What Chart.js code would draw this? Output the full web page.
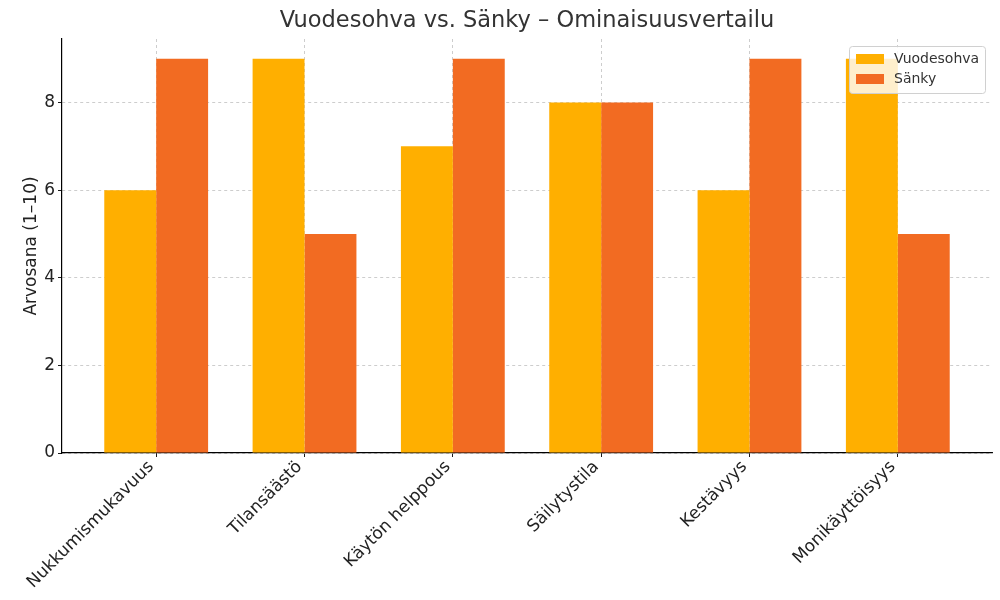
<!DOCTYPE html>
<html>
<head>
<meta charset="utf-8">
<script src="https://cdn.jsdelivr.net/npm/chart.js@4.4.1/dist/chart.umd.min.js"></script>
<style>
  html, body { margin: 0; padding: 0; background: #fff; }
  #wrap { width: 1000px; height: 600px; }
</style>
</head>
<body>
<div id="wrap"><canvas id="chart" width="1000" height="600"></canvas></div>
<script>
const categories = ["Nukkumismukavuus", "Tilansäästö", "Käytön helppous", "Säilytystila", "Kestävyys", "Monikäyttöisyys"];
const sohva = [6, 9, 7, 8, 6, 9];
const sanky = [9, 5, 9, 8, 9, 5];
const yTicks = [0, 2, 4, 6, 8];

const FONT = "'DejaVu Sans', sans-serif";

// legend box drawn inside plot, top right (like matplotlib)
const innerLegend = {
  id: "innerLegend",
  afterDraw(chart) {
    const ctx = chart.ctx;
    const area = chart.chartArea;
    const sets = chart.data.datasets;
    const w = 136, h = 47;
    const x = area.right - 7 - w, y = area.top + 7;
    ctx.save();
    ctx.fillStyle = "rgba(255,255,255,0.8)";
    ctx.strokeStyle = "#d0d0d0";
    ctx.lineWidth = 1;
    ctx.beginPath();
    ctx.roundRect(x + 0.5, y + 0.5, w, h, 3);
    ctx.fill();
    ctx.stroke();
    ctx.font = "14px " + FONT;
    ctx.textBaseline = "middle";
    sets.forEach((ds, i) => {
      const cy = y + 13 + i * 20;
      ctx.fillStyle = ds.backgroundColor;
      ctx.fillRect(x + 7, cy - 5, 28, 10);
      ctx.fillStyle = "#333";
      ctx.fillText(ds.label, x + 45, cy);
    });
    ctx.restore();
  }
};

const gridOpts = { color: "#c8c8c8", lineWidth: 0.9, tickColor: "#000", tickLength: 4, offset: false };

new Chart(document.getElementById("chart"), {
  type: "bar",
  data: {
    datasets: [
      { label: "Vuodesohva", data: sohva.map((v, i) => ({ x: i, y: v })), backgroundColor: "#FFAF00" },
      { label: "Sänky", data: sanky.map((v, i) => ({ x: i, y: v })), backgroundColor: "#F26B22" }
    ]
  },
  options: {
    responsive: false,
    animation: false,
    layout: { padding: { left: 0, right: 8, top: 0, bottom: 0 } },
    datasets: { bar: { barPercentage: 1, categoryPercentage: 0.7 } },
    plugins: {
      legend: { display: false },
      tooltip: { enabled: false },
      title: {
        display: true,
        fullSize: false,
        text: "Vuodesohva vs. Sänky – Ominaisuusvertailu",
        color: "#333",
        font: { family: FONT, size: 22.5, weight: "normal" },
        padding: { top: 8, bottom: 4 }
      }
    },
    scales: {
      x: {
        type: "linear",
        min: -0.635,
        max: 5.635,
        offset: false,
        afterBuildTicks(scale) { scale.ticks = categories.map((c, i) => ({ value: i })); },
        afterFit(scale) { scale.height = 147; },
        ticks: {
          callback: (v) => categories[v],
          autoSkip: false,
          minRotation: 45,
          maxRotation: 45,
          color: "#222",
          font: { family: FONT, size: 17 },
          padding: 0,
          labelOffset: -5
        },
        grid: gridOpts,
        border: { display: true, color: "#000", width: 1.2, dash: [3, 3] }
      },
      y: {
        min: 0,
        max: 9.45,
        afterBuildTicks(scale) { scale.ticks = yTicks.map(v => ({ value: v })); },
        afterFit(scale) { scale.width = 62; },
        ticks: { color: "#222", font: { family: FONT, size: 17 }, padding: 3 },
        title: {
          display: true,
          text: "Arvosana (1–10)",
          color: "#222",
          font: { family: FONT, size: 17 },
          padding: { top: 21, bottom: 0 }
        },
        grid: gridOpts,
        border: { display: true, color: "#000", width: 1.2, dash: [3, 3] }
      }
    }
  },
  plugins: [innerLegend]
});
</script>
</body>
</html>
